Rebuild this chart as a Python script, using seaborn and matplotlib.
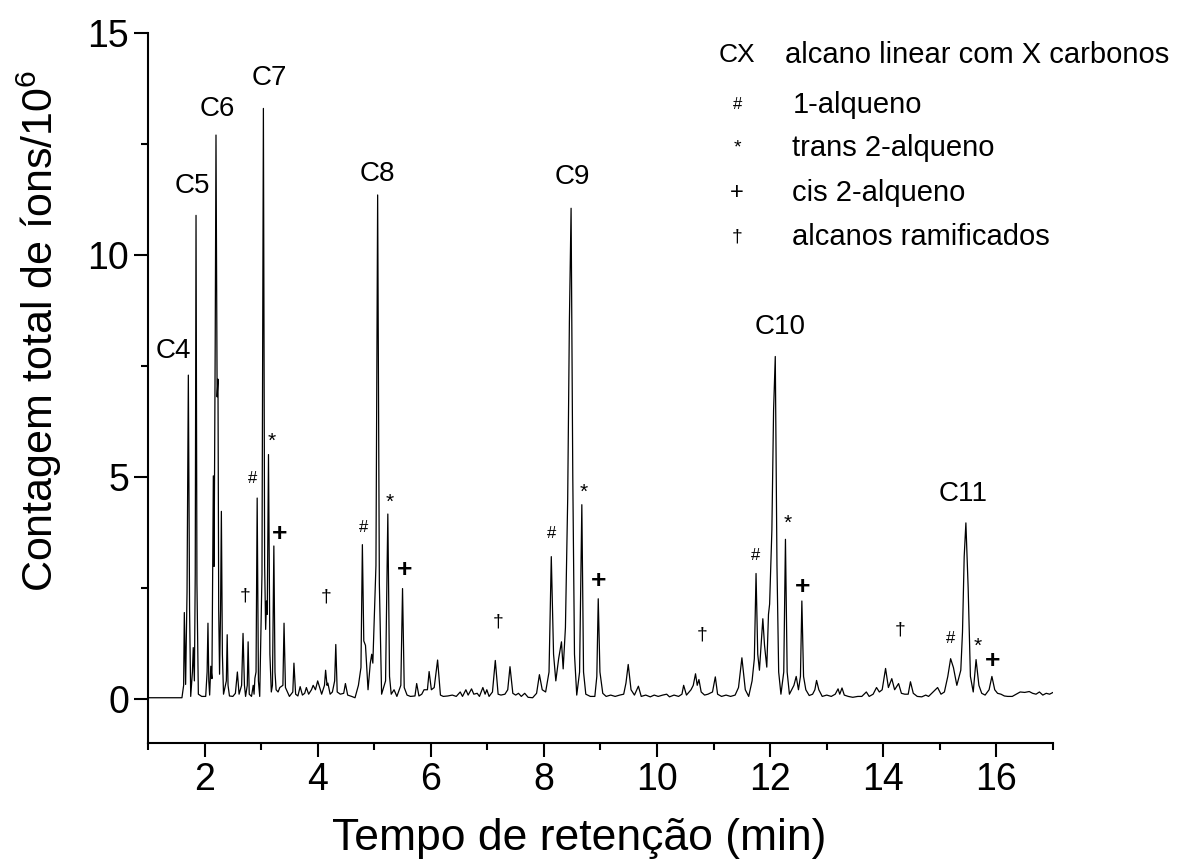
import numpy as np
import pandas as pd
import matplotlib
matplotlib.use("Agg")
import matplotlib.pyplot as plt
import seaborn as sns
from matplotlib.ticker import MultipleLocator

# pontos do cromatograma (tempo em min, contagem/10^6)
tempo = [
    1.00, 1.60, 1.63, 1.642, 1.665, 1.69, 1.713, 1.735, 1.755, 1.785, 1.80, 1.82,
    1.835, 1.849, 1.865, 1.89, 1.95, 2.02, 2.045, 2.06, 2.075, 2.09, 2.11, 2.13,
    2.155, 2.168, 2.188, 2.202, 2.222, 2.237, 2.25, 2.265, 2.283, 2.297, 2.315, 2.335,
    2.385, 2.40, 2.415, 2.44, 2.50, 2.545, 2.58, 2.61, 2.655, 2.68, 2.705, 2.725,
    2.755, 2.77, 2.79, 2.83, 2.86, 2.875, 2.89, 2.91, 2.93, 2.952, 2.975, 3.015,
    3.04, 3.062, 3.08, 3.095, 3.108, 3.13, 3.155, 3.18, 3.20, 3.225, 3.245, 3.265,
    3.30, 3.33, 3.385, 3.405, 3.43, 3.50, 3.56, 3.58, 3.61, 3.65, 3.69, 3.73,
    3.77, 3.80, 3.84, 3.89, 3.92, 3.96, 4.00, 4.07, 4.12, 4.14, 4.165, 4.18,
    4.22, 4.26, 4.30, 4.32, 4.345, 4.40, 4.46, 4.49, 4.53, 4.60, 4.66, 4.72,
    4.765, 4.79, 4.815, 4.845, 4.89, 4.93, 4.955, 4.975, 5.03, 5.06, 5.09, 5.13,
    5.20, 5.24, 5.27, 5.30, 5.35, 5.40, 5.47, 5.50, 5.53, 5.58, 5.64, 5.72,
    5.75, 5.79, 5.84, 5.88, 5.94, 5.97, 6.01, 6.06, 6.12, 6.17, 6.22, 6.30,
    6.38, 6.45, 6.52, 6.56, 6.62, 6.66, 6.72, 6.76, 6.82, 6.86, 6.92, 6.96,
    6.99, 7.03, 7.09, 7.14, 7.19, 7.24, 7.31, 7.36, 7.40, 7.45, 7.50, 7.55,
    7.60, 7.66, 7.72, 7.80, 7.87, 7.92, 7.97, 8.03, 8.09, 8.13, 8.17, 8.21,
    8.26, 8.31, 8.34, 8.38, 8.42, 8.45, 8.48, 8.51, 8.54, 8.58, 8.63, 8.67,
    8.70, 8.74, 8.82, 8.90, 8.935, 8.96, 8.99, 9.04, 9.10, 9.18, 9.26, 9.34,
    9.41, 9.45, 9.49, 9.54, 9.60, 9.67, 9.72, 9.80, 9.88, 9.95, 10.02, 10.10,
    10.17, 10.22, 10.30, 10.38, 10.44, 10.47, 10.52, 10.60, 10.64, 10.68, 10.71, 10.74,
    10.78, 10.84, 10.90, 10.98, 11.03, 11.07, 11.14, 11.22, 11.30, 11.38, 11.44, 11.50,
    11.56, 11.62, 11.68, 11.72, 11.75, 11.78, 11.81, 11.85, 11.87, 11.90, 11.94, 11.97,
    11.99, 12.03, 12.06, 12.09, 12.12, 12.15, 12.19, 12.24, 12.27, 12.30, 12.34, 12.38,
    12.42, 12.46, 12.50, 12.535, 12.56, 12.59, 12.63, 12.69, 12.75, 12.79, 12.82, 12.86,
    12.92, 13.00, 13.08, 13.15, 13.20, 13.23, 13.27, 13.31, 13.38, 13.46, 13.55, 13.62,
    13.70, 13.75, 13.82, 13.88, 13.93, 13.98, 14.04, 14.09, 14.15, 14.20, 14.27, 14.32,
    14.38, 14.44, 14.48, 14.53, 14.60, 14.68, 14.75, 14.80, 14.88, 14.96, 15.02, 15.08,
    15.14, 15.19, 15.24, 15.30, 15.34, 15.37, 15.40, 15.43, 15.46, 15.50, 15.54, 15.59,
    15.64, 15.69, 15.74, 15.80, 15.87, 15.92, 15.97, 16.02, 16.08, 16.14, 16.20, 16.28,
    16.35, 16.42, 16.50, 16.58, 16.64, 16.70, 16.76, 16.82, 16.88, 16.94, 17.00,
]
contagem = [
    0.02, 0.02, 0.30, 1.94, 0.32, 2.40, 7.29, 2.00, 0.05, 0.60, 1.15, 0.40,
    2.80, 10.89, 2.60, 0.10, 0.05, 0.05, 0.60, 1.70, 0.40, 0.08, 0.73, 0.45,
    5.02, 2.98, 8.00, 12.70, 6.80, 7.20, 2.00, 0.55, 2.00, 4.22, 1.00, 0.10,
    0.40, 1.44, 0.30, 0.06, 0.05, 0.12, 0.60, 0.10, 0.30, 1.47, 0.30, 0.05,
    0.30, 1.28, 0.10, 0.05, 0.30, 0.10, 0.46, 0.60, 4.52, 0.40, 0.05, 2.80,
    13.30, 3.00, 1.56, 2.20, 1.90, 5.50, 1.00, 0.15, 0.30, 3.44, 0.60, 0.20,
    0.15, 0.25, 0.30, 1.70, 0.25, 0.05, 0.15, 0.80, 0.10, 0.06, 0.27, 0.08,
    0.12, 0.25, 0.10, 0.20, 0.30, 0.20, 0.40, 0.10, 0.30, 0.64, 0.30, 0.35,
    0.10, 0.15, 0.40, 1.22, 0.15, 0.10, 0.12, 0.34, 0.08, 0.05, 0.02, 0.30,
    0.70, 3.47, 1.30, 1.20, 0.20, 0.80, 1.00, 0.80, 3.00, 11.35, 2.60, 0.10,
    0.40, 4.16, 0.50, 0.10, 0.20, 0.05, 0.30, 2.48, 0.25, 0.08, 0.05, 0.06,
    0.34, 0.06, 0.10, 0.20, 0.20, 0.61, 0.20, 0.25, 0.87, 0.08, 0.05, 0.06,
    0.08, 0.05, 0.15, 0.05, 0.20, 0.08, 0.22, 0.10, 0.12, 0.05, 0.25, 0.10,
    0.20, 0.05, 0.15, 0.86, 0.10, 0.08, 0.10, 0.20, 0.72, 0.12, 0.08, 0.12,
    0.05, 0.12, 0.03, 0.02, 0.12, 0.54, 0.20, 0.15, 0.60, 3.20, 1.00, 0.40,
    0.90, 1.28, 0.67, 1.60, 4.50, 8.50, 11.05, 5.00, 1.00, 0.08, 0.60, 4.37,
    0.60, 0.10, 0.05, 0.05, 0.50, 2.25, 0.60, 0.12, 0.05, 0.08, 0.05, 0.08,
    0.10, 0.35, 0.77, 0.20, 0.08, 0.28, 0.05, 0.08, 0.04, 0.08, 0.05, 0.08,
    0.10, 0.04, 0.08, 0.05, 0.10, 0.30, 0.08, 0.20, 0.30, 0.56, 0.30, 0.43,
    0.15, 0.08, 0.10, 0.15, 0.49, 0.10, 0.05, 0.08, 0.05, 0.08, 0.25, 0.92,
    0.20, 0.05, 0.40, 0.90, 2.82, 1.00, 0.64, 1.40, 1.80, 1.20, 0.71, 1.90,
    2.13, 3.80, 6.50, 7.71, 3.00, 0.60, 0.10, 0.60, 3.59, 0.60, 0.10, 0.20,
    0.30, 0.50, 0.20, 0.50, 2.20, 0.50, 0.20, 0.07, 0.10, 0.20, 0.41, 0.20,
    0.05, 0.08, 0.05, 0.10, 0.22, 0.10, 0.24, 0.08, 0.05, 0.03, 0.05, 0.05,
    0.15, 0.05, 0.10, 0.25, 0.15, 0.20, 0.68, 0.25, 0.45, 0.20, 0.34, 0.12,
    0.10, 0.10, 0.38, 0.12, 0.05, 0.04, 0.08, 0.05, 0.15, 0.25, 0.10, 0.15,
    0.50, 0.90, 0.70, 0.30, 0.50, 0.64, 1.50, 3.20, 3.96, 2.50, 0.50, 0.15,
    0.88, 0.30, 0.12, 0.08, 0.20, 0.50, 0.20, 0.12, 0.10, 0.06, 0.05, 0.05,
    0.10, 0.15, 0.14, 0.16, 0.12, 0.10, 0.15, 0.08, 0.12, 0.10, 0.14,
]

# identificação dos alcanos lineares
alcanos = ["C4", "C5", "C6", "C7", "C8", "C9", "C10", "C11"]
# símbolos dos outros compostos e seus significados
simbolos = ["#", "*", "+", "\u2020"]
significados = ["1-alqueno", "trans 2-alqueno", "cis 2-alqueno", "alcanos ramificados"]

df = pd.DataFrame({"tempo": tempo, "contagem": contagem})

sns.set_theme(style="ticks")
plt.rcParams["font.family"] = ["Liberation Sans", "DejaVu Sans"]
plt.rcParams["mathtext.fontset"] = "custom"
plt.rcParams["mathtext.rm"] = "Liberation Sans"
plt.rcParams["text.color"] = "black"
plt.rcParams["axes.labelcolor"] = "black"

fig = plt.figure(figsize=(11.85, 8.68), dpi=100)
ax = fig.add_axes([0.1249, 0.144, 0.7637, 0.818])

sns.lineplot(data=df, x="tempo", y="contagem", ax=ax, color="black",
             linewidth=0.9, estimator=None, sort=False)

ax.set_xlim(1, 17)
ax.set_ylim(-1, 15)
ax.xaxis.set_major_locator(MultipleLocator(2))
ax.xaxis.set_minor_locator(MultipleLocator(1))
ax.yaxis.set_major_locator(MultipleLocator(5))
ax.yaxis.set_minor_locator(MultipleLocator(2.5))
ax.tick_params(which="major", direction="out", length=10, width=1.5,
               labelsize=27, color="black", labelcolor="black")
ax.tick_params(which="minor", direction="out", length=5, width=1.5, color="black")
sns.despine(ax=ax)
for s in ["left", "bottom"]:
    ax.spines[s].set_linewidth(1.5)
    ax.spines[s].set_color("black")

ax.set_xlabel("Tempo de retenção (min)", fontsize=32)
ax.set_ylabel("Contagem total de íons/10$^{\\mathrm{6}}$", fontsize=31)
ax.xaxis.set_label_coords(0.477, -0.105)
ax.yaxis.set_label_coords(-0.0925, 0.58)

# posições dos rótulos dos alcanos
pos_alcanos = [(1.44, 7.84), (1.79, 11.56), (2.23, 13.28), (3.14, 13.98),
               (5.05, 11.83), (8.51, 11.76), (12.17, 8.38), (15.42, 4.61)]
for nome, (x, y) in zip(alcanos, pos_alcanos):
    ax.text(x, y, nome, fontsize=20, ha="center", va="center")

# posições dos símbolos sobre os picos
pos_simbolos = {
    "#": [(2.84, 4.95), (4.81, 3.85), (8.14, 3.72), (11.75, 3.23), (15.18, 1.35)],
    "*": [(3.19, 5.80), (5.28, 4.42), (8.70, 4.66), (12.31, 3.95), (15.67, 1.17)],
    "+": [(3.33, 3.72), (5.53, 2.89), (8.96, 2.66), (12.57, 2.52), (15.93, 0.85)],
    "\u2020": [(2.71, 2.32), (4.15, 2.29), (7.19, 1.72), (10.79, 1.43), (14.30, 1.54)],
}
estilo = {"#": dict(fontsize=12), "*": dict(fontsize=15),
          "+": dict(fontsize=19, fontweight="bold"), "\u2020": dict(fontsize=14)}
for simb, lista in pos_simbolos.items():
    for x, y in lista:
        ax.text(x, y, simb, ha="center", va="center", **estilo[simb])

# legenda em texto
ax.text(0.651, 0.969, "CX", transform=ax.transAxes, fontsize=19,
        ha="center", va="center")
ax.text(0.7044, 0.969, "alcano linear com X carbonos", transform=ax.transAxes,
        fontsize=21, ha="left", va="center")
leg_y = [0.8986, 0.838, 0.775, 0.7127]
leg_size = [12, 14, 17, 14]
for simb, texto, y, tam in zip(simbolos, significados, leg_y, leg_size):
    ax.text(0.651, y, simb, transform=ax.transAxes, fontsize=tam,
            ha="center", va="center")
    ax.text(0.712, y, texto, transform=ax.transAxes, fontsize=21,
            ha="left", va="center")

fig.savefig("out.png", dpi=100)
